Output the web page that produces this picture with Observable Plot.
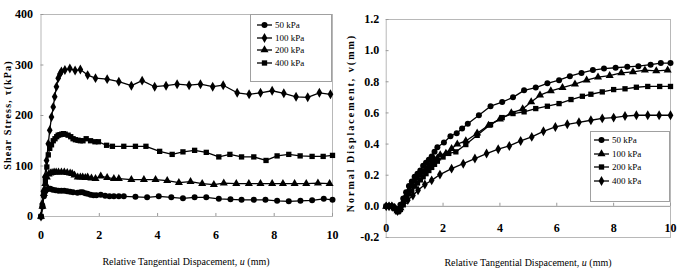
<!DOCTYPE html>
<html><head><meta charset="utf-8">
<script src="https://cdn.jsdelivr.net/npm/d3@7"></script>
<script src="https://cdn.jsdelivr.net/npm/@observablehq/plot@0.6"></script>
<style>
body{margin:0;background:#fff}
#wrap{position:relative;width:677px;height:271px;font-family:"Liberation Serif","Tinos","Times New Roman","DejaVu Serif",serif;overflow:hidden;background:#fff}
.panel{position:absolute;top:0}
.xt{position:absolute;font-size:10px;white-space:nowrap;transform:translate(-50%,-50%)}
.yt{position:absolute;font-size:10px;font-weight:bold;white-space:nowrap;transform:translate(-50%,-50%) rotate(-90deg)}
.legend{position:absolute;border:1px solid #a0a0a0;background:#fff;box-sizing:border-box}
.legend .row{position:absolute;left:0;height:12px;display:flex;align-items:center;font-size:9px;white-space:nowrap}
.legend svg{display:block}
</style></head>
<body>
<div id="wrap">
  <div id="left" class="panel" style="left:0"></div>
  <div id="right" class="panel" style="left:340px"></div>
  <div class="yt" style="left:7px;top:115px;letter-spacing:1.2px">Shear Stress, τ(kPa)</div>
  <div class="yt" style="left:350px;top:123px;letter-spacing:2px">Normal Displacement, v(mm)</div>
  <div class="xt" style="left:186px;top:261px">Relative Tangential Dispacement, <i>u</i> (mm)</div>
  <div class="xt" style="left:528px;top:262px">Relative Tangential Dispacement, <i>u</i> (mm)</div>
  <div id="legL" class="legend" style="left:250px;top:14px;width:82px;height:68px"></div>
  <div id="legR" class="legend" style="left:590px;top:131px;width:80px;height:71px"></div>
</div>
<script>
// ---------- ticks ----------
const xTicks = [0, 2, 4, 6, 8, 10];
const yTicksL = [0, 100, 200, 300, 400];
const yTicksR = [-0.2, 0, 0.2, 0.4, 0.6, 0.8, 1.0, 1.2];

// ---------- left panel: shear stress ----------
const leftLabels = ["50 kPa", "100 kPa", "200 kPa", "400 kPa"];
const leftSymbols = ["circle", "diamond", "triangle", "square"];

const L50u = [0,0.05,0.1,0.15,0.2,0.26,0.32,0.4,0.5,0.6,0.7,0.8,0.9,1.0,1.1,1.25,1.35,1.43,1.52,1.6,1.7,1.8,1.9,2.05,2.2,2.35,2.5,2.67,2.84,3.24,3.64,4.04,4.47,4.87,5.27,5.67,6.1,6.5,6.88,7.3,7.7,8.1,8.5,8.9,9.3,9.7,10];
const L50t = [0,20,40,50,54,55,55,53,52,51,51,51,50,49,48,47,48,48,46,45,43,42,42,43,41,40,40,40,40,39,38,40,38,36,38,38,35,34,33,33,33,31,30,31,32,35,33];

const L100u = [0,0.04,0.08,0.13,0.19,0.25,0.3,0.36,0.42,0.47,0.53,0.59,0.65,0.7,0.82,0.99,1.17,1.35,1.6,1.87,2.27,2.67,3.1,3.47,3.9,4.29,4.67,5.08,5.47,5.89,6.25,6.73,7.14,7.53,7.93,8.33,8.75,9.15,9.55,9.93];
const L100t = [0,25,50,78,111,144,171,197,217,237,257,274,282,287,290,293,289,291,280,274,272,267,259,269,257,259,262,260,262,257,260,245,242,245,249,244,237,236,245,242];

const L200u = [0,0.05,0.1,0.15,0.2,0.26,0.32,0.38,0.45,0.52,0.6,0.7,0.8,0.9,1.0,1.07,1.15,1.26,1.35,1.43,1.52,1.6,1.73,1.87,2.05,2.27,2.5,2.67,3.1,3.53,3.93,4.33,4.73,5.13,5.53,5.93,6.27,6.7,7.13,7.53,7.93,8.3,8.7,9.1,9.5,9.9];
const L200t = [0,20,45,65,78,84,86,87,88,88,88,88,88,87,86,85,82,78,78,78,77,78,76,75,80,77,75,75,73,73,73,71,67,69,65,63,66,65,65,65,65,65,65,65,66,65];

const L400u = [0,0.05,0.1,0.15,0.2,0.25,0.3,0.36,0.42,0.48,0.54,0.59,0.65,0.71,0.77,0.83,0.93,1.02,1.1,1.18,1.27,1.35,1.44,1.55,1.7,1.85,1.97,2.25,2.45,2.84,3.24,3.6,4.07,4.5,4.87,5.27,5.67,6.1,6.48,6.88,7.3,7.72,8.1,8.5,8.89,9.3,9.68,10];
const L400t = [0,20,45,70,98,122,135,142,150,154,158,161,162,163,164,163,161,158,154,152,151,150,150,154,150,148,148,141,139,139,139,139,129,123,128,131,127,118,123,118,118,111,120,123,120,119,119,121];

// ---------- right panel: normal displacement ----------
const rightLabels = ["50 kPa", "100 kPa", "200 kPa", "400 kPa"];
const rightSymbols = ["circle", "triangle", "square", "diamond"];

const R50u = [0,0.1,0.2,0.3,0.4,0.5,0.6,0.7,0.8,0.9,1.0,1.1,1.2,1.3,1.4,1.5,1.6,1.7,1.8,2.03,2.26,2.48,2.67,2.87,3.26,3.67,4.08,4.46,4.85,5.26,5.67,6.08,6.46,6.87,7.27,7.66,8.07,8.48,8.87,9.3,9.66,10];
const R50v = [0,0,0,-0.01,-0.02,0.01,0.05,0.09,0.13,0.16,0.19,0.21,0.23,0.26,0.28,0.30,0.32,0.35,0.38,0.41,0.45,0.47,0.50,0.53,0.585,0.643,0.67,0.70,0.745,0.763,0.79,0.81,0.836,0.857,0.875,0.885,0.89,0.896,0.90,0.91,0.92,0.92];

const R100u = [0,0.1,0.2,0.3,0.4,0.5,0.6,0.7,0.8,0.9,1.0,1.1,1.2,1.3,1.4,1.5,1.6,1.7,1.8,1.9,2.1,2.3,2.5,2.8,3.2,3.6,4.0,4.4,4.8,5.1,5.41,5.79,6.2,6.64,7.05,7.45,7.86,8.27,8.68,9.1,9.5,9.9];
const R100v = [0,0,0,-0.01,-0.03,-0.01,0.03,0.07,0.10,0.13,0.16,0.18,0.20,0.22,0.24,0.26,0.28,0.30,0.31,0.33,0.34,0.37,0.40,0.42,0.47,0.52,0.56,0.60,0.625,0.67,0.714,0.742,0.763,0.785,0.81,0.83,0.84,0.857,0.864,0.875,0.87,0.875];

const R200u = [0,0.1,0.2,0.3,0.4,0.5,0.6,0.7,0.8,0.9,1.0,1.1,1.2,1.3,1.4,1.5,1.6,1.7,1.8,2.0,2.2,2.45,2.8,3.2,3.67,4.08,4.46,4.85,5.26,5.67,6.08,6.5,6.9,7.2,7.6,8.0,8.4,8.8,9.2,9.62,10];
const R200v = [0,0,0,-0.015,-0.035,-0.02,0.01,0.05,0.08,0.10,0.13,0.15,0.17,0.19,0.21,0.23,0.25,0.27,0.29,0.317,0.34,0.35,0.397,0.456,0.525,0.57,0.596,0.607,0.628,0.643,0.66,0.686,0.707,0.72,0.735,0.75,0.755,0.765,0.77,0.77,0.77];

const R400u = [0,0.1,0.2,0.3,0.4,0.5,0.57,0.76,0.94,1.12,1.36,1.6,1.89,2.3,2.71,3.12,3.53,3.94,4.33,4.73,5.12,5.53,5.95,6.37,6.78,7.2,7.6,8.0,8.4,8.8,9.2,9.6,10];
const R400v = [0,0,0,-0.01,-0.03,-0.02,0.01,0.04,0.07,0.103,0.14,0.167,0.204,0.242,0.274,0.307,0.339,0.367,0.388,0.42,0.446,0.482,0.51,0.527,0.54,0.553,0.565,0.57,0.58,0.585,0.585,0.585,0.585];

// ---------- build tables ----------
function rows(us, vs, s) { return us.map((u, i) => ({u, v: vs[i], s})); }
const leftSeries = [
  rows(L50u, L50t, 0), rows(L100u, L100t, 1), rows(L200u, L200t, 2), rows(L400u, L400t, 3)
];
const rightSeries = [
  rows(R50u, R50v, 0), rows(R100u, R100v, 1), rows(R200u, R200v, 2), rows(R400u, R400v, 3)
];

const FONT = "'Liberation Serif', Tinos, 'Times New Roman', 'DejaVu Serif', serif";
const GRID = "#b8b8b8";
const R = 3;

function seriesMarks(series, symbols) {
  const m = [];
  series.forEach((data, i) => {
    m.push(Plot.line(data, {x: "u", y: "v", stroke: "black", strokeWidth: 1.3}));
    m.push(Plot.dot(data, {x: "u", y: "v", symbol: () => symbols[i], fill: "black", stroke: "none", r: R}));
  });
  return m;
}

const left = Plot.plot({
  width: 340, height: 271,
  marginLeft: 40.5, marginRight: 8, marginTop: 14, marginBottom: 55,
  style: {fontFamily: FONT, background: "transparent", color: "black"},
  x: {domain: [0, 10]},
  y: {domain: [0, 400]},
  symbol: {type: "identity"},
  marks: [
    Plot.frame({stroke: GRID}),
    Plot.ruleY(yTicksL, {y: d => d, x1: 0, x2: 0.1, stroke: "#999"}),
    Plot.ruleX(xTicks, {x: d => d, y1: 0, y2: 6, stroke: "#999"}),
    Plot.axisY(yTicksL, {tickSize: 0, tickPadding: 8, fontSize: 12, fontWeight: "bold", label: null}),
    Plot.axisX(xTicks, {tickSize: 0, tickPadding: 14, fontSize: 12, fontWeight: "bold", label: null}),
    ...seriesMarks(leftSeries, leftSymbols)
  ]
});
document.getElementById("left").append(left);

const right = Plot.plot({
  width: 337, height: 271,
  marginLeft: 45.7, marginRight: 7, marginTop: 19, marginBottom: 34,
  style: {fontFamily: FONT, background: "transparent", color: "black"},
  x: {domain: [0, 10], axis: null},
  y: {domain: [-0.2, 1.2]},
  symbol: {type: "identity"},
  marks: [
    Plot.frame({stroke: GRID}),
    Plot.ruleY([0], {stroke: "#999"}),
    Plot.ruleY(yTicksR, {y: d => d, x1: 0, x2: 0.1, stroke: "#999"}),
    Plot.ruleX(xTicks, {x: d => d, y1: 0, y2: 0.02, stroke: "#999"}),
    Plot.axisY(yTicksR, {tickSize: 0, tickPadding: 7, fontSize: 12, fontWeight: "bold", label: null, tickFormat: d => d.toFixed(1)}),
    Plot.text(xTicks, {x: d => d, y: 0, dy: 22, text: d => String(d), fontSize: 12, fontWeight: "bold"}),
    ...seriesMarks(rightSeries, rightSymbols)
  ]
});
document.getElementById("right").append(right);

// ---------- legends ----------
const symMap = {circle: d3.symbolCircle, diamond: d3.symbolDiamond, triangle: d3.symbolTriangle, square: d3.symbolSquare};
function legend(el, labels, symbols, cfg) {
  labels.forEach((lab, i) => {
    const row = document.createElement("div");
    row.className = "row";
    row.style.top = (cfg.y0 + i * cfg.dy - 6) + "px";
    const svg = d3.create("svg").attr("width", cfg.lineX1 + 2).attr("height", 12);
    svg.append("line").attr("x1", cfg.lineX0).attr("x2", cfg.lineX1).attr("y1", 6).attr("y2", 6)
      .attr("stroke", "black").attr("stroke-width", 1.3);
    svg.append("path").attr("transform", `translate(${(cfg.lineX0 + cfg.lineX1) / 2},6)`)
      .attr("d", d3.symbol(symMap[symbols[i]], Math.PI * R * R)());
    row.append(svg.node());
    const t = document.createElement("span");
    t.textContent = lab;
    t.style.marginLeft = "1px";
    row.append(t);
    el.append(row);
  });
}
legend(document.getElementById("legL"), leftLabels, leftSymbols, {y0: 10, dy: 12.7, lineX0: 6, lineX1: 21});
legend(document.getElementById("legR"), rightLabels, rightSymbols, {y0: 8, dy: 13.6, lineX0: 3, lineX1: 18});
</script>
</body></html>
